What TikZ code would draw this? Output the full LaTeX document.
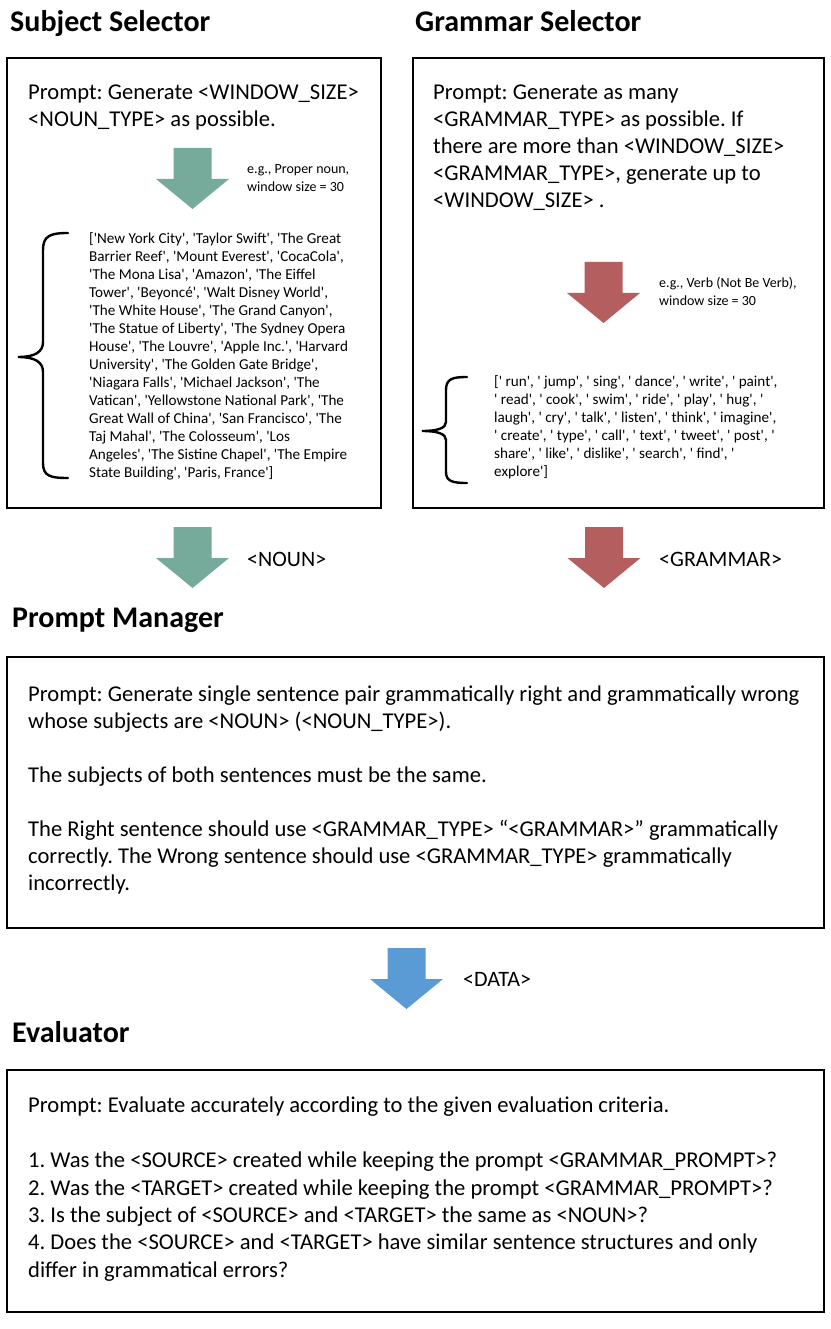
\documentclass[tikz,border=0pt]{standalone}
\usepackage{fontspec}
\setmainfont{Carlito}[Ligatures=TeXOff]
\usepackage{tikz}
\usepackage{xcolor}
\usetikzlibrary{positioning}
\frenchspacing

\definecolor{noungreen}{RGB}{118,171,156}
\definecolor{grammarred}{RGB}{181,94,96}
\definecolor{datablue}{RGB}{91,155,213}

% block arrow pointing down, (#1,#2) is the top centre
\newcommand{\dnarrow}[3]{\fill[#3] (#1,#2) -- ++(19,0) -- ++(0,31) -- ++(17.5,0) -- ++(-36.5,30) -- ++(-36.5,-30) -- ++(17.5,0) -- ++(0,-31) -- cycle;}

\begin{document}
\begin{tikzpicture}[x=1pt, y=-1pt,
    box/.style={draw=black, line width=2pt, anchor=north west, inner sep=0},
    title/.style={font=\fontsize{30}{36}\selectfont\bfseries, anchor=base west, inner sep=0},
    prompt/.style={font=\fontsize{22.6}{27}\selectfont, align=left, anchor=north west, inner sep=0},
    listtext/.style={font=\fontsize{15.15}{18}\selectfont, align=left, anchor=north west, inner sep=0},
    note/.style={font=\fontsize{14}{18}\selectfont, align=left, anchor=north west, inner sep=0},
    tag/.style={font=\fontsize{22}{27}\selectfont, anchor=base west, inner sep=0},
    brace/.style={line width=2.4pt, line cap=round}]
    \path[fill=white] (0,0) rectangle (830,1329);

    % headings
    \node[title] (subjtitle) at (10,32) {Subject Selector};
    \node[title] (gramtitle) at (415,32) {Grammar Selector};
    \node[title] (mgrtitle) at (12,627) {Prompt Manager};
    \node[title] (evaltitle) at (12,1042) {Evaluator};

    % boxes
    \node[box, minimum width=374, minimum height=450] (subjbox) at (6,57) {};
    \node[box, minimum width=411, minimum height=450] (grambox) at (412,57) {};
    \node[box, minimum width=817, minimum height=271] (mgrbox) at (6,656) {};
    \node[box, minimum width=817, minimum height=242] (evalbox) at (6,1069) {};

    % subject selector
    \node[prompt] (subjprompt) at (28,85) {Prompt: Generate <WINDOW\_SIZE>\\<NOUN\_TYPE> as possible.};
    \dnarrow{192.5}{148}{noungreen}
    \node[note] (subjnote) at (247,164) {e.g., Proper noun,\\window size = 30};
    \node[listtext] (subjlist) at (89,232) {['New York City', 'Taylor Swift', 'The Great\\
        Barrier Reef', 'Mount Everest', 'CocaCola',\\
        'The Mona Lisa', 'Amazon', 'The Eiffel\\
        Tower', 'Beyoncé', 'Walt Disney World',\\
        'The White House', 'The Grand Canyon',\\
        'The Statue of Liberty', 'The Sydney Opera\\
        House', 'The Louvre', 'Apple Inc.', 'Harvard\\
        University', 'The Golden Gate Bridge',\\
        'Niagara Falls', 'Michael Jackson', 'The\\
        Vatican', 'Yellowstone National Park', 'The\\
        Great Wall of China', 'San Francisco', 'The\\
        Taj Mahal', 'The Colosseum', 'Los\\
        Angeles', 'The Sistine Chapel', 'The Empire\\
        State Building', 'Paris, France']};
    \draw[brace] (68,233) .. controls (50,233) and (43,236) .. (43,250) -- (43,342)
        .. controls (43,352) and (35,357) .. (18,357)
        .. controls (35,357) and (43,362) .. (43,372) -- (43,463)
        .. controls (43,476) and (50,478) .. (68,478);

    % grammar selector
    \node[prompt] (gramprompt) at (433,85) {Prompt: Generate as many\\<GRAMMAR\_TYPE> as possible. If\\there are more than <WINDOW\_SIZE>\\<GRAMMAR\_TYPE>, generate up to\\<WINDOW\_SIZE> .};
    \dnarrow{603.5}{262}{grammarred}
    \node[note] (gramnote) at (659,277.5) {e.g., Verb (Not Be Verb),\\window size = 30};
    \node[listtext] (gramlist) at (494,375) {[' run', ' jump', ' sing', ' dance', ' write', ' paint',\\
        ' read', ' cook', ' swim', ' ride', ' play', ' hug', '\\
        laugh', ' cry', ' talk', ' listen', ' think', ' imagine',\\
        ' create', ' type', ' call', ' text', ' tweet', ' post', '\\
        share', ' like', ' dislike', ' search', ' find', '\\
        explore']};
    \draw[brace] (467,377) .. controls (452,377) and (446,379) .. (446,390) -- (446,422)
        .. controls (446,428) and (438,431) .. (422,431)
        .. controls (438,431) and (446,434) .. (446,440) -- (446,472)
        .. controls (446,481) and (452,483) .. (467,483);

    % arrows into the prompt manager
    \dnarrow{192.5}{527}{noungreen}
    \node[tag] (nountag) at (247,566) {<NOUN>};
    \dnarrow{604}{527}{grammarred}
    \node[tag] (grammartag) at (659,566) {<GRAMMAR>};

    % prompt manager
    \node[prompt] (mgrprompt) at (28,686) {Prompt: Generate single sentence pair grammatically right and grammatically wrong\\
        whose subjects are <NOUN> (<NOUN\_TYPE>).\\[27pt]
        The subjects of both sentences must be the same.\\[27pt]
        The Right sentence should use <GRAMMAR\_TYPE> “<GRAMMAR>” grammatically\\
        correctly. The Wrong sentence should use <GRAMMAR\_TYPE> grammatically\\
        incorrectly.};

    % arrow into the evaluator
    \dnarrow{406.5}{948}{datablue}
    \node[tag] (datatag) at (463,986) {<DATA>};

    % evaluator
    \node[prompt, font=\fontsize{22.6}{27.4}\selectfont] (evalprompt) at (28,1097) {Prompt: Evaluate accurately according to the given evaluation criteria.\\[27.4pt]
        1. Was the <SOURCE> created while keeping the prompt <GRAMMAR\_PROMPT>?\\
        2. Was the <TARGET> created while keeping the prompt <GRAMMAR\_PROMPT>?\\
        3. Is the subject of <SOURCE> and <TARGET> the same as <NOUN>?\\
        4. Does the <SOURCE> and <TARGET> have similar sentence structures and only\\
        differ in grammatical errors?};
\end{tikzpicture}
\end{document}
